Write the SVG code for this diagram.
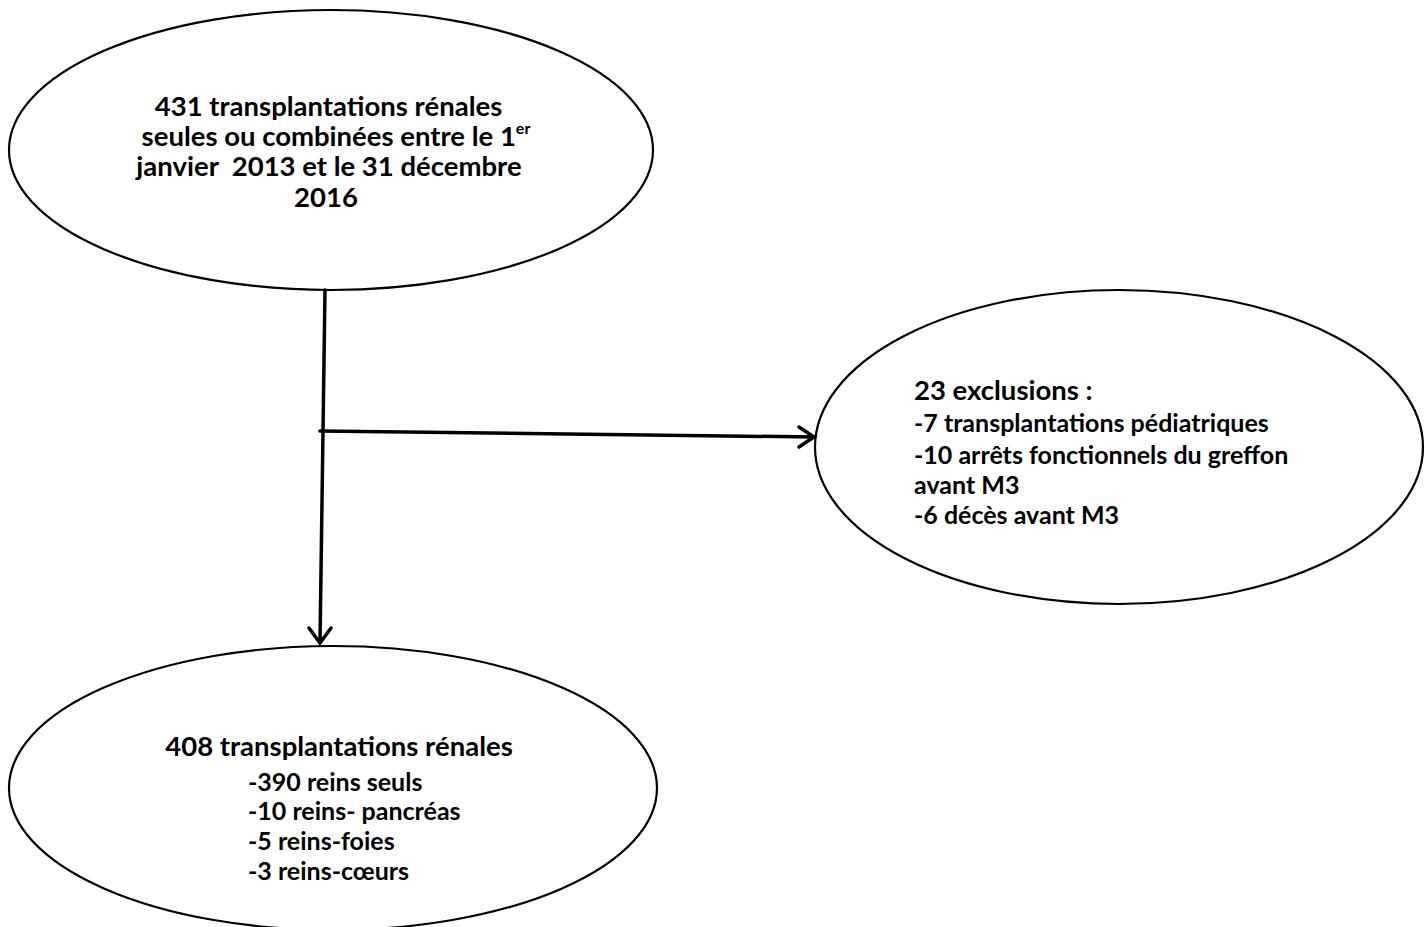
<svg xmlns="http://www.w3.org/2000/svg" width="1426" height="927" viewBox="0 0 1426 927">
<style>
.node{fill:#fff;stroke:#000;stroke-width:2.2}
.t{font-family:Lato,"Liberation Sans",sans-serif;font-weight:bold;font-size:27.5px;fill:#000}
.s{font-size:25px}
.c{stroke:#000;stroke-width:3.5;fill:none;stroke-linecap:round}
.h{stroke:#000;stroke-width:3.5;fill:none;stroke-linecap:round;stroke-linejoin:miter}
</style>
<rect width="1426" height="927" fill="#fff"/>
<g id="top">
<ellipse class="node" cx="331" cy="150" rx="322" ry="140"/>
<text class="t" text-anchor="middle"><tspan x="328.5" y="115.5">431 transplantations rénales</tspan><tspan x="336" y="145.7">seules ou combinées entre le 1<tspan font-size="16" dy="-12">er</tspan></tspan><tspan x="329" y="176">janvier&#160; 2013 et le 31 décembre</tspan><tspan x="326" y="206.5">2016</tspan></text>
</g>
<g id="exclusions">
<ellipse class="node" cx="1119" cy="447" rx="304" ry="157"/>
<text class="t"><tspan x="914" y="400">23 exclusions :</tspan><tspan class="s" x="914" y="432">-7 transplantations pédiatriques</tspan><tspan class="s" x="914" y="463.5">-10 arrêts fonctionnels du greffon</tspan><tspan class="s" x="914" y="493.5">avant M3</tspan><tspan class="s" x="914" y="523.5">-6 décès avant M3</tspan></text>
</g>
<g id="bottom">
<ellipse class="node" cx="333" cy="788" rx="324" ry="142"/>
<text class="t"><tspan x="339" y="756" text-anchor="middle">408 transplantations rénales</tspan><tspan class="s" x="248" y="791">-390 reins seuls</tspan><tspan class="s" x="248" y="820">-10 reins- pancréas</tspan><tspan class="s" x="248" y="850">-5 reins-foies</tspan><tspan class="s" x="248" y="880">-3 reins-cœurs</tspan></text>
</g>
<g id="connectors">
<path class="c" d="M325 290 L320 643"/>
<path class="h" d="M309 628 L320 643 L331 628"/>
<path class="c" d="M320 431 L814 437"/>
<path class="h" d="M799 427 L814 437 L799 447"/>
</g>
</svg>
